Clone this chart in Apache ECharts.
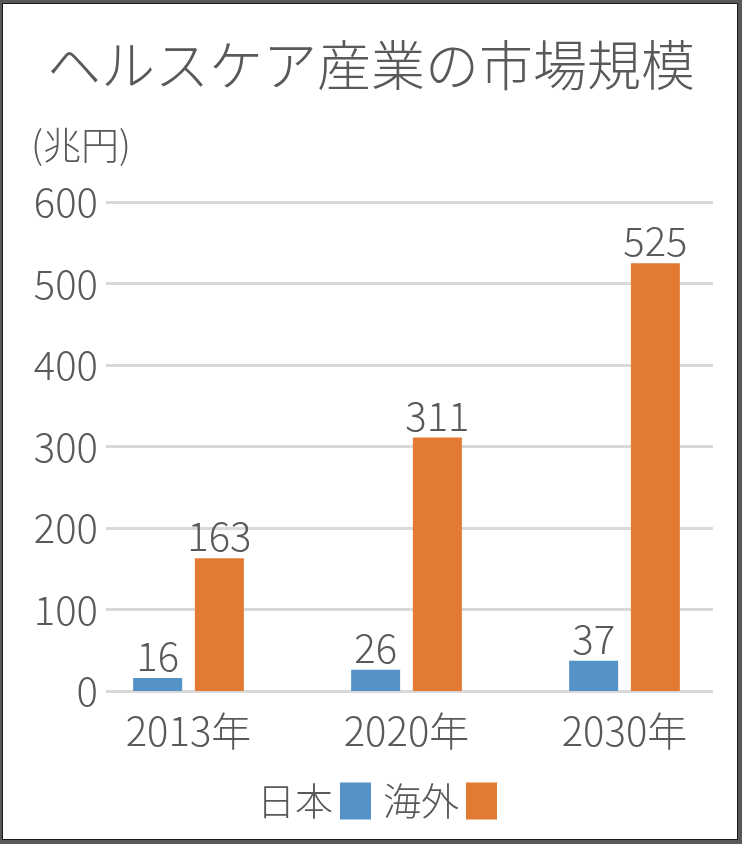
<!DOCTYPE html>
<html>
<head>
<meta charset="utf-8">
<script src="https://cdn.jsdelivr.net/npm/echarts@6/dist/echarts.min.js"></script>
<style>
  html, body { margin: 0; padding: 0; }
  body { width: 742px; height: 844px; position: relative; background: #585858; overflow: hidden; }
  #frame { position: absolute; left: 2px; top: 3px; width: 734px; height: 835px; background: #fff; border: 1px solid #1a1a1a; }
  #chart { position: absolute; left: 0; top: 0; width: 742px; height: 844px; }
</style>
</head>
<body>
<div id="frame"></div>
<div id="chart"></div>
<script>
const titleText = 'ヘルスケア産業の市場規模';
const unitText = '(兆円)';
const categories = ['2013年', '2020年', '2030年'];
const seriesNames = ['日本', '海外'];
const japanValues = [16, 26, 37];
const overseasValues = [163, 311, 525];
const yTicks = { min: 0, max: 600, interval: 100 };

const FONT = '"Noto Sans CJK JP", "Noto Sans", sans-serif';
const W = 300;
const TXT = '#595959';

const chart = echarts.init(document.getElementById('chart'), null, { renderer: 'canvas' });
chart.setOption({
  backgroundColor: 'transparent',
  textStyle: { fontFamily: FONT, fontWeight: W },
  title: [
    { text: titleText, left: 'center', top: 33,
      textStyle: { fontFamily: FONT, fontSize: 54, fontWeight: W, color: TXT } },
    { text: unitText, left: 26, top: 121,
      textStyle: { fontFamily: FONT, fontSize: 38, fontWeight: W, color: TXT } }
  ],
  legend: {
    data: seriesNames,
    left: 252, top: 777,
    align: 'right',
    icon: 'rect',
    itemWidth: 31, itemHeight: 37,
    itemGap: 12,
    textStyle: { fontFamily: FONT, fontSize: 38, fontWeight: W, color: TXT, padding: [0, 2, 0, 0] }
  },
  grid: [
    { left: 106, right: 29, top: 202, bottom: 153 },
    { left: 79.5, right: 8.5, top: 202, bottom: 153 }
  ],
  xAxis: [
    { gridIndex: 0, type: 'category', data: categories, show: false },
    { gridIndex: 1, type: 'category', data: categories,
      axisLine: { show: false }, axisTick: { show: false },
      axisLabel: { fontFamily: FONT, fontSize: 40, fontWeight: W, color: TXT, margin: 20 } }
  ],
  yAxis: [
    { gridIndex: 0, type: 'value', min: yTicks.min, max: yTicks.max, interval: yTicks.interval,
      axisLine: { show: false }, axisTick: { show: false },
      axisLabel: { fontFamily: FONT, fontSize: 40, fontWeight: W, color: TXT, margin: 8 },
      splitLine: { lineStyle: { color: '#d9d9d9', width: 3 } } },
    { gridIndex: 1, type: 'value', min: yTicks.min, max: yTicks.max, interval: yTicks.interval, show: false,
      splitLine: { show: false } }
  ],
  series: [
    { name: seriesNames[0], type: 'bar', xAxisIndex: 1, yAxisIndex: 1, data: japanValues,
      barWidth: 49, barGap: '26%',
      itemStyle: { color: '#5592C8' },
      label: { show: true, position: 'top', distance: 2, fontFamily: FONT, fontSize: 40, fontWeight: W, color: TXT } },
    { name: seriesNames[1], type: 'bar', xAxisIndex: 1, yAxisIndex: 1, data: overseasValues,
      barWidth: 49, barGap: '26%',
      itemStyle: { color: '#E27A33' },
      label: { show: true, position: 'top', distance: 2, fontFamily: FONT, fontSize: 40, fontWeight: W, color: TXT } }
  ]
});
</script>
</body>
</html>
